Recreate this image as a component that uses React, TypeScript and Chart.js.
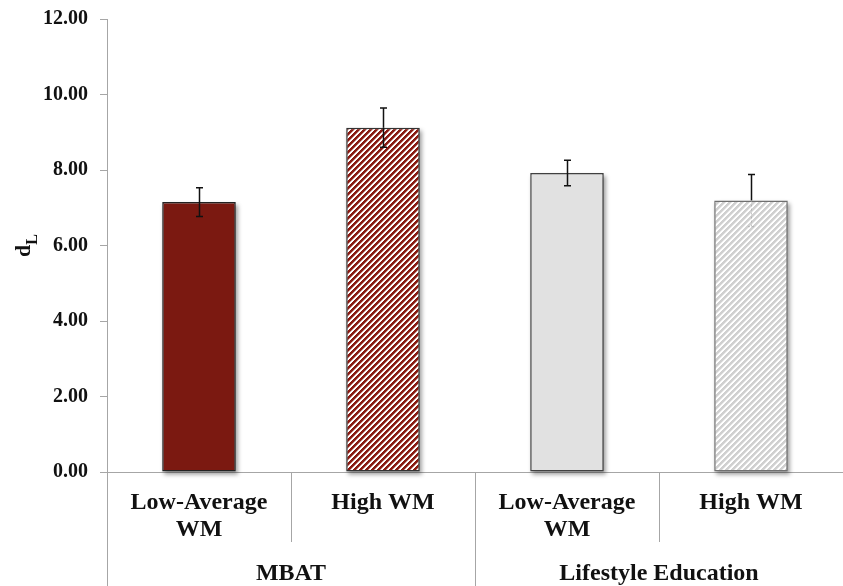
import { useEffect, useRef } from 'react';
import { Chart, registerables } from 'chart.js';

Chart.register(...registerables);

// ---- data ----
const subgroupLabels: (string | string[])[] = [['Low-Average', 'WM'], 'High WM', ['Low-Average', 'WM'], 'High WM'];
const groupLabels = ['MBAT', 'Lifestyle Education'];
const meanValues = [7.15, 9.12, 7.92, 7.19];
const errorValues = [0.38, 0.52, 0.34, 0.69];
const yTickValues = [0, 2, 4, 6, 8, 10, 12];
const yTitleMain = 'd';
const yTitleSub = 'L';

const FONT = '"Liberation Serif", "Times New Roman", serif';

function makeHatch(rgb: [number, number, number], period: number, width: number) {
  const size = period * 4;
  const c = document.createElement('canvas');
  c.width = size;
  c.height = size;
  const g = c.getContext('2d')!;
  const img = g.createImageData(size, size);
  for (let y = 0; y < size; y++) {
    for (let x = 0; x < size; x++) {
      const m = (x + y) % period;
      let a = 0;
      if (m < width) a = 1;
      else if (m < width + 0.5) a = 0.5;
      const idx = (y * size + x) * 4;
      img.data[idx] = Math.round(255 + (rgb[0] - 255) * a);
      img.data[idx + 1] = Math.round(255 + (rgb[1] - 255) * a);
      img.data[idx + 2] = Math.round(255 + (rgb[2] - 255) * a);
      img.data[idx + 3] = 255;
    }
  }
  g.putImageData(img, 0, 0);
  return g.createPattern(c, 'repeat')!;
}

export default function App() {
  const ref = useRef<HTMLCanvasElement>(null);

  useEffect(() => {
    const canvas = ref.current!;
    const redHatch = makeHatch([138, 26, 18], 6, 3);
    const grayHatch = makeHatch([208, 208, 208], 6, 3);

    const shadowPlugin = {
      id: 'barShadow',
      beforeDatasetsDraw(chart: any) {
        const ctx = chart.ctx;
        const meta = chart.getDatasetMeta(0);
        ctx.save();
        ctx.fillStyle = 'rgba(0,0,0,0.38)';
        ctx.filter = 'blur(2px)';
        meta.data.forEach((el: any) => {
          const p = el.getProps(['x', 'y', 'base', 'width'], true);
          const left = p.x - p.width / 2;
          const top = Math.min(p.y, p.base);
          const h = Math.abs(p.base - p.y);
          ctx.fillRect(left + 2, top + 3, p.width, h);
        });
        ctx.restore();
      },
    };

    const errorPlugin = {
      id: 'errorBars',
      afterDatasetsDraw(chart: any) {
        const ctx = chart.ctx;
        const meta = chart.getDatasetMeta(0);
        const ys = chart.scales.y;
        meta.data.forEach((el: any, i: number) => {
          const x = Math.round(el.x) + 0.5;
          const top = ys.getPixelForValue(meanValues[i] + errorValues[i]);
          const mid = ys.getPixelForValue(meanValues[i]);
          const bot = ys.getPixelForValue(meanValues[i] - errorValues[i]);
          const cap = 3.5;
          ctx.save();
          ctx.lineWidth = 1.5;
          ctx.strokeStyle = '#111';
          ctx.beginPath();
          ctx.moveTo(x, top);
          ctx.lineTo(x, mid);
          ctx.moveTo(x - cap, top);
          ctx.lineTo(x + cap, top);
          ctx.stroke();
          if (i === 3) {
            ctx.strokeStyle = 'rgba(160,160,160,0.6)';
            ctx.lineWidth = 1;
            ctx.setLineDash([2, 2]);
          }
          ctx.beginPath();
          ctx.moveTo(x, mid);
          ctx.lineTo(x, bot);
          ctx.moveTo(x - cap, bot);
          ctx.lineTo(x + cap, bot);
          ctx.stroke();
          ctx.restore();
        });
      },
    };

    const decorPlugin = {
      id: 'decor',
      afterDraw(chart: any) {
        const ctx = chart.ctx;
        const xs = chart.scales.x;
        const x2 = chart.scales.x2;
        ctx.save();
        ctx.strokeStyle = '#a6a6a6';
        ctx.lineWidth = 1;
        const n = subgroupLabels.length;
        for (let i = 0; i <= n; i++) {
          const v = i - 0.5;
          const px = Math.round(xs.getPixelForValue(v)) + 0.5;
          if (px >= chart.width - 1) continue;
          const major = i % 2 === 0;
          ctx.beginPath();
          ctx.moveTo(px, xs.top);
          ctx.lineTo(px, major ? x2.bottom : xs.bottom);
          ctx.stroke();
        }
        // y title with subscript
        const ys = chart.scales.y;
        const cy = (ys.top + ys.bottom) / 2;
        ctx.translate(30, cy);
        ctx.rotate(-Math.PI / 2);
        ctx.fillStyle = '#111';
        ctx.textBaseline = 'alphabetic';
        ctx.textAlign = 'left';
        ctx.font = `bold 22px ${FONT}`;
        const w1 = ctx.measureText(yTitleMain).width;
        ctx.font = `bold 16px ${FONT}`;
        const w2 = ctx.measureText(yTitleSub).width;
        const start = -(w1 + w2) / 2;
        ctx.font = `bold 22px ${FONT}`;
        ctx.fillText(yTitleMain, start, 0);
        ctx.font = `bold 16px ${FONT}`;
        ctx.fillText(yTitleSub, start + w1, 7);
        ctx.restore();
      },
    };

    const chart = new Chart(canvas, {
      type: 'bar',
      data: {
        labels: subgroupLabels as any,
        datasets: [
          {
            data: meanValues,
            backgroundColor: ['#7b1911', redHatch, '#e1e1e1', grayHatch] as any,
            borderColor: ['#222222', '#333333', '#404040', '#707070'],
            borderWidth: 1.5,
            borderSkipped: false,
            barPercentage: 0.4,
            categoryPercentage: 1,
            clip: false,
          },
        ],
      },
      options: {
        responsive: false,
        animation: false,
        layout: { padding: { top: 19, left: 0, right: 0, bottom: 0 } },
        plugins: { legend: { display: false }, tooltip: { enabled: false } },
        scales: {
          y: {
            min: 0,
            max: 12,
            afterBuildTicks: (s: any) => {
              s.ticks = yTickValues.map((v) => ({ value: v }));
            },
            ticks: {
              callback: (v: any) => Number(v).toFixed(2),
              font: { family: FONT, size: 20, weight: 'bold' },
              color: '#111',
              padding: 12,
            },
            grid: { drawOnChartArea: false, drawTicks: true, tickLength: 7, color: '#a6a6a6' },
            border: { color: '#a6a6a6' },
            afterFit: (s: any) => {
              s.width = 107;
              s.paddingTop = 0;
              s.paddingBottom = 0;
            },
          },
          x: {
            offset: true,
            grid: { display: false, drawTicks: false },
            border: { display: true, color: '#a6a6a6' },
            ticks: {
              font: { family: FONT, size: 24, weight: 'bold', lineHeight: 1.1 },
              color: '#111',
              padding: 18,
              maxRotation: 0,
              autoSkip: false,
            },
            afterFit: (s: any) => {
              s.height = 70;
            },
          },
          x2: {
            type: 'category',
            labels: groupLabels,
            offset: true,
            position: 'bottom',
            grid: { display: false, drawTicks: false },
            border: { display: false },
            ticks: {
              font: { family: FONT, size: 24, weight: 'bold', lineHeight: 1.1 },
              color: '#111',
              padding: 19,
              maxRotation: 0,
              autoSkip: false,
            },
            afterFit: (s: any) => {
              s.height = 44;
            },
          },
        },
      } as any,
      plugins: [shadowPlugin, errorPlugin, decorPlugin],
    });
    return () => chart.destroy();
  }, []);

  return (
    <div style={{ position: 'fixed', left: 0, top: 0, width: 843, height: 586, background: '#fff' }}>
      <canvas ref={ref} width={843} height={586} style={{ display: 'block' }} />
    </div>
  );
}
